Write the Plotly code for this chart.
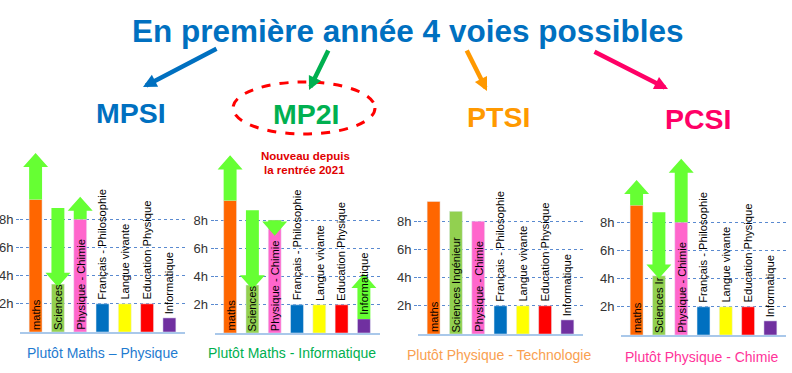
import plotly.graph_objects as go

W, H = 792, 373

# ---------------- data ----------------
mpsi_labels = ["maths", "Sciences", "Physique - Chimie", "Français - Philosophie",
               "Langue vivante", "Education Physique", "Informatique"]
mpsi_hours = [9.4, 3.4, 8, 2, 2, 2, 1]
mpsi_arrow_idx = [0, 1, 2]
mpsi_arrow_from = [9.4, 8.8, 8.0]
mpsi_arrow_to = [12.7, 3.2, 9.6]

mp2i_labels = ["maths", "Sciences", "Physique - Chimie", "Français - Philosophie",
               "Langue vivante", "Education Physique", "Informatique"]
mp2i_hours = [9.4, 3.4, 8, 2, 2, 2, 1]
mp2i_arrow_idx = [0, 1, 2, 6]
mp2i_arrow_from = [9.4, 8.7, 8.0, 1.0]
mp2i_arrow_to = [12.6, 3.1, 6.9, 4.2]

ptsi_labels = ["maths", "Sciences Ingénieur", "Physique - Chimie", "Français - Philosophie",
               "Langue vivante", "Education Physique", "Informatique"]
ptsi_hours = [9.4, 8.7, 8, 2, 2, 2, 1]
ptsi_arrow_idx = []
ptsi_arrow_from = []
ptsi_arrow_to = []

pcsi_labels = ["maths", "Sciences Ir", "Physique - Chimie", "Français - Philosophie",
               "Langue vivante", "Education Physique", "Informatique"]
pcsi_hours = [9.2, 4.2, 8, 2, 2, 2, 1]
pcsi_arrow_idx = [0, 1, 2]
pcsi_arrow_from = [9.2, 8.7, 8.0]
pcsi_arrow_to = [11.0, 4.0, 12.5]

tick_vals = [2, 4, 6, 8]
tick_text = ["2h", "4h", "6h", "8h"]

filiere_names = ["MPSI", "MP2I", "PTSI", "PCSI"]
filiere_captions = ["Plutôt Maths – Physique", "Plutôt Maths - Informatique",
                    "Plutôt Physique - Technologie", "Plutôt Physique - Chimie"]
title_text = "En première année 4 voies possibles"

# ---------------- styles ----------------
bar_colors = ["#FF6600", "#92D050", "#FF66CC", "#0070C0", "#FFFF00", "#FF0000", "#7030A0"]
name_colors = ["#0070C0", "#00B050", "#FF9900", "#FF0066"]
caption_colors = ["#1F7BD0", "#00B050", "#F9A050", "#FF3399"]
arrow_green = "#66FF33"
BOLD = "Liberation Sans, Arial, sans-serif"
SANS = "Liberation Sans, Arial, sans-serif"

# panel pixel geometry: (left, right, baseline)
panels_px = [(20, 185, 332), (214.5, 379.5, 333), (418, 583, 334), (621, 786, 335)]
PX_PER_H = 14.1
Y_MAX = 13.0
X_RANGE = [-0.7, 6.7]

panels = [
    (mpsi_labels, mpsi_hours, mpsi_arrow_idx, mpsi_arrow_from, mpsi_arrow_to),
    (mp2i_labels, mp2i_hours, mp2i_arrow_idx, mp2i_arrow_from, mp2i_arrow_to),
    (ptsi_labels, ptsi_hours, ptsi_arrow_idx, ptsi_arrow_from, ptsi_arrow_to),
    (pcsi_labels, pcsi_hours, pcsi_arrow_idx, pcsi_arrow_from, pcsi_arrow_to),
]

fig = go.Figure()
shapes = []
annotations = []
layout_axes = {}


def arrow_path(c, y0, y1, sw=0.29, hw=0.56, hl=1.0):
    d = 1 if y1 > y0 else -1
    yh = y1 - d * hl
    pts = [(c - sw, y0), (c - sw, yh), (c - hw, yh), (c, y1),
           (c + hw, yh), (c + sw, yh), (c + sw, y0)]
    return "M " + " L ".join(f"{x},{y}" for x, y in pts) + " Z"


for k, (labels, hours, a_idx, a_from, a_to) in enumerate(panels):
    n = "" if k == 0 else str(k + 1)
    xa, ya = "x" + n, "y" + n
    left, right, base = panels_px[k]
    top = base - Y_MAX * PX_PER_H
    xs = list(range(len(labels)))
    fig.add_trace(go.Bar(x=xs, y=hours, marker_color=bar_colors, width=0.58,
                         xaxis=xa, yaxis=ya, showlegend=False, hoverinfo="skip"))
    layout_axes["xaxis" + n] = dict(domain=[left / W, right / W], range=X_RANGE,
                                    showgrid=False, zeroline=False, showticklabels=False,
                                    showline=True, linecolor="#A9C8EA", linewidth=2,
                                    anchor=ya, fixedrange=True)
    layout_axes["yaxis" + n] = dict(domain=[1 - base / H, 1 - top / H], range=[0, Y_MAX],
                                    tickvals=tick_vals, ticktext=tick_text,
                                    showgrid=True, gridcolor="#5A8AD0", griddash="dot",
                                    gridwidth=1, zeroline=False, showline=False,
                                    ticks="outside", ticklen=3, tickcolor="#5A8AD0",
                                    tickfont=dict(family=SANS, size=13, color="#333333"),
                                    anchor=xa, fixedrange=True)
    for c, y0, y1 in zip(a_idx, a_from, a_to):
        shapes.append(dict(type="path", path=arrow_path(c, y0, y1), xref=xa, yref=ya,
                           fillcolor=arrow_green, line=dict(width=0), layer="above"))
    for i, (lab, v) in enumerate(zip(labels, hours)):
        inside = i < 3
        annotations.append(dict(text=lab, x=i, y=0 if inside else v, xref=xa, yref=ya,
                                textangle=-90, xanchor="center", yanchor="bottom",
                                yshift=0 if inside else 2, showarrow=False,
                                font=dict(family=SANS, size=11.2, color="#000000")))

# title
annotations.append(dict(text=f"<b>{title_text}</b>", x=408 / W, y=1 - 31 / H, xref="paper",
                        yref="paper", xanchor="center", yanchor="middle", showarrow=False,
                        font=dict(family=BOLD, size=31.5, color="#0070C0")))

# arrows from title to each filiere
arrow_heads = [(143, 87), (309, 90), (487, 91), (668, 89)]
arrow_tails = [(218, 48), (329, 49), (466, 49), (593, 51)]
for (hx, hy), (tx, ty), col in zip(arrow_heads, arrow_tails, name_colors):
    annotations.append(dict(text="", x=hx / W, y=1 - hy / H, xref="paper", yref="paper",
                            ax=tx - hx, ay=ty - hy, showarrow=True, arrowhead=2,
                            arrowsize=0.6, arrowwidth=4.5, arrowcolor=col, standoff=0))

# filiere names
name_pos = [(131, 113), (306, 114), (498, 116.5), (698, 119)]
for (px, py), name, col in zip(name_pos, filiere_names, name_colors):
    annotations.append(dict(text=f"<b>{name}</b>", x=px / W, y=1 - py / H, xref="paper",
                            yref="paper", xanchor="center", yanchor="middle",
                            showarrow=False, font=dict(family=BOLD, size=28.5, color=col)))

# captions
cap_pos = [(102, 353), (292, 353), (499, 355), (702, 357)]
for (px, py), cap, col in zip(cap_pos, filiere_captions, caption_colors):
    annotations.append(dict(text=cap, x=px / W, y=1 - py / H, xref="paper", yref="paper",
                            xanchor="center", yanchor="middle", showarrow=False,
                            font=dict(family=SANS, size=14, color=col)))

# new badge
annotations.append(dict(text="<b>Nouveau depuis</b>", x=305 / W, y=1 - 156 / H, xref="paper",
                        yref="paper", xanchor="center", yanchor="middle", showarrow=False,
                        font=dict(family=BOLD, size=11.5, color="#E00000")))
annotations.append(dict(text="<b>la rentrée 2021</b>", x=304 / W, y=1 - 170 / H, xref="paper",
                        yref="paper", xanchor="center", yanchor="middle", showarrow=False,
                        font=dict(family=BOLD, size=11.5, color="#E00000")))
shapes.append(dict(type="circle", xref="paper", yref="paper", x0=233 / W, x1=375 / W,
                   y0=1 - 134 / H, y1=1 - 82 / H, line=dict(color="#FF0000", width=3, dash="dash"),
                   layer="above"))

fig.update_layout(width=W, height=H, margin=dict(l=0, r=0, t=0, b=0),
                  paper_bgcolor="white", plot_bgcolor="rgba(0,0,0,0)",
                  shapes=shapes, annotations=annotations, **layout_axes)

fig.write_html("out.html", config={"displayModeBar": False})
